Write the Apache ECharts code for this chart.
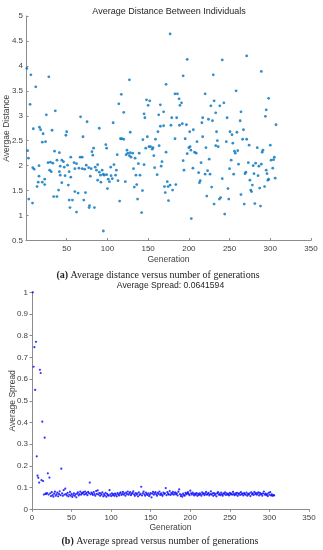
<!DOCTYPE html>
<html><head><meta charset="utf-8">
<script src="https://cdn.jsdelivr.net/npm/echarts@6/dist/echarts.min.js"></script>
<style>html,body{margin:0;padding:0;background:#fff}#c{width:323px;height:550px}</style>
</head><body><div id="c"></div>
<script>
// Top chart: [generation, average distance]
const distPoints = [
[1,3.95],[2,2.30],[3,2.15],[3.4,1.33],[5,3.23],[6,3.82],[8,1.25],[8.3,1.96],[9,2.74],[10,1.93],
[12,3.58],[13.6,1.58],[15,1.67],[16,1.79],[16,2.0],[16.5,2.77],[18,2.72],[20,2.47],[20,1.67],[21,2.64],
[23,1.73],[23,1.62],[24,2.48],[25,3.02],[27,2.06],[28,3.78],[29,1.91],[30,2.07],[31,1.88],[32,2.71],
[33,2.05],[34,1.38],[35,2.29],[36,3.10],[38,2.11],[38,1.38],[40,1.51],[41,2.26],[41,1.88],[42,1.99],
[42,1.81],[44,2.11],[44,1.66],[46,2.08],[47,1.97],[48,1.80],[49,2.61],[50,2.68],[51,2.01],[52,1.61],
[53,1.88],[53,1.31],[54,1.16],[55,1.77],[55,2.17],[57,1.31],[59,2.06],[60,1.48],[60,1.94],[62,2.04],
[62,1.07],[64,1.45],[65,1.95],[66.5,2.17],[67,2.98],[69,2.17],[69,1.94],[70,2.58],[71,1.31],[72,1.93],
[73,1.46],[74,2.01],[75,2.88],[77,1.96],[77.5,1.16],[78,1.20],[79,1.79],[80,1.94],[81,2.28],[82,2.21],
[83,2.35],[84,1.16],[85,1.97],[86.5,1.91],[88,2.02],[88,1.71],[90,2.75],[90,1.87],[91.5,1.81],[92,1.67],
[93.5,1.91],[95,0.69],[95,1.83],[96,1.81],[98,2.42],[99,2.35],[99,1.82],[100,1.54],[101,1.73],[102.5,1.68],
[104,1.97],[104.5,1.80],[106,1.74],[107,2.86],[108,2.02],[110,1.81],[111,1.91],[112,2.22],[113,1.70],[114,3.24],
[115,1.29],[116,2.54],[117,3.43],[117.6,2.54],[120,3.07],[120,2.53],[122,1.68],[123,2.22],[124,2.31],[125,2.25],
[127,3.72],[127,2.20],[128,2.67],[128,2.26],[129,2.17],[131,2.25],[132,1.94],[133,1.57],[134,2.15],[135,1.81],
[136,1.62],[137,1.33],[138,2.04],[139,2.25],[140,1.81],[142,1.06],[143,1.50],[143.5,2.52],[145,3.04],[145,2.02],
[146,2.96],[147,2.35],[148,3.32],[149,2.58],[150,3.21],[151,2.38],[152,3.30],[153,2.38],[155,2.33],[156,2.36],
[157,2.20],[158,1.96],[159,2.53],[161,1.82],[162,2.68],[163,3.02],[163.5,2.40],[165,3.22],[165,2.79],[166,1.99],
[167,2.08],[169,3.08],[169,2.80],[170,1.58],[171,1.46],[172,3.63],[172,2.27],[173.5,1.68],[174.5,1.58],[175,1.30],
[177,4.64],[177,1.61],[178,2.81],[179,2.96],[180,1.51],[183,3.44],[183,2.54],[184,1.62],[185,2.96],[186,3.44],
[188,3.34],[188.5,2.81],[189,3.21],[191,3.26],[192,2.84],[193,3.80],[193,2.10],[194,1.91],[195.5,2.54],[197,2.82],
[198,4.13],[198,2.24],[200,2.36],[201,2.68],[201.5,2.38],[202.5,2.31],[203,0.94],[205,1.95],[205.5,2.72],[207,2.27],
[209,2.25],[210,2.48],[212,1.86],[213,1.66],[214,1.70],[215,2.06],[216,2.86],[217,2.96],[217,2.58],[220,3.44],
[220,1.83],[221,2.36],[222,1.39],[223,1.90],[224,2.93],[225,2.13],[226,1.83],[227,3.20],[228,1.57],[229,2.90],
[230,3.82],[231,3.30],[231,1.23],[233,3.06],[233,2.40],[234,2.68],[235,2.50],[236,2.38],[237.5,1.33],[238,3.20],
[239,1.36],[241,4.12],[241,1.74],[243,3.26],[244,1.03],[246,2.48],[247,2.96],[248,1.54],[249,1.33],[250,1.94],
[250.5,2.68],[252,2.11],[253,2.62],[254,2.45],[255,1.83],[256,2.29],[257,2.25],[258,3.50],[259,2.67],[260,2.30],
[261,2.03],[263,2.90],[264,3.08],[264,1.42],[266,2.53],[267,2.72],[268,1.23],[269,1.84],[270,1.87],[271,4.20],
[271,2.53],[273,2.06],[274,2.41],[275,1.71],[276,1.51],[277,1.48],[278,1.61],[279,2.0],[280,1.84],[281,1.24],
[282,2.05],[284,2.36],[285,1.80],[286,1.99],[287,1.55],[288,1.19],[289,3.89],[289,2.03],[290,2.27],[291,2.31],
[293,1.58],[294,2.99],[295,3.12],[295,1.91],[296,1.84],[297,1.71],[298,3.35],[298,1.73],[300,2.41],[301,2.11],
[303,1.95],[304,2.12],[305,2.17],[306,1.75],[307,2.82]
];
// Bottom chart: average spread, one value per generation (1..306)
const spreadValues = [
1.0,0.657,0.747,0.55,0.772,0.244,0.155,0.145,0.123,0.643,
0.628,0.134,0.404,0.130,0.068,0.330,0.072,0.070,0.075,0.166,
0.068,0.146,
0.074,0.061,0.079,0.066,0.058,0.072,0.081,0.063,0.069,0.077,
0.060,0.071,0.083,0.065,0.187,0.073,0.062,0.088,0.068,0.095,
0.070,0.064,0.076,0.059,0.067,0.080,0.063,0.071,0.057,0.066,
0.074,0.062,0.069,0.055,0.072,0.078,0.064,0.070,0.081,0.067,
0.075,0.073,0.079,0.068,0.082,0.071,0.076,0.065,0.080,0.074,
0.123,0.069,0.077,0.072,0.066,0.079,0.070,0.063,0.084,0.071,
0.087,0.068,0.075,0.062,0.073,0.067,0.078,0.060,0.070,0.064,
0.076,0.058,0.071,0.066,0.063,0.088,0.069,0.061,0.074,0.065,
0.070,0.062,0.072,0.067,0.060,0.075,0.069,0.064,0.073,0.078,
0.066,0.071,0.080,0.068,0.074,0.063,0.077,0.070,0.082,0.067,
0.073,0.079,0.065,0.071,0.076,0.083,0.069,0.062,0.075,0.068,
0.072,0.060,0.078,0.066,0.071,0.104,0.064,0.074,0.081,0.069,
0.063,0.077,0.070,0.066,0.073,0.061,0.068,0.075,0.055,0.072,
0.080,0.067,0.074,0.079,0.069,0.063,0.076,0.071,0.082,0.066,
0.073,0.068,0.062,0.077,0.070,0.074,0.098,0.065,0.079,0.072,
0.068,0.084,0.066,0.075,0.071,0.080,0.067,0.073,0.078,0.069,
0.074,0.064,0.081,0.092,0.070,0.061,0.067,0.058,0.072,0.066,
0.063,0.076,0.069,0.073,0.079,0.071,0.065,0.086,0.074,0.068,
0.077,0.070,0.064,0.072,0.067,0.075,0.062,0.071,0.066,0.073,
0.069,0.063,0.078,0.070,0.074,0.065,0.072,0.080,0.067,0.071,
0.076,0.064,0.070,0.083,0.068,0.073,0.062,0.075,0.066,0.071,
0.060,0.074,0.079,0.067,0.072,0.065,0.077,0.069,0.063,0.073,
0.070,0.078,0.066,0.074,0.068,0.071,0.064,0.076,0.069,0.072,
0.067,0.080,0.070,0.065,0.073,0.068,0.076,0.062,0.071,0.074,
0.066,0.079,0.069,0.072,0.064,0.075,0.070,0.067,0.077,0.063,
0.071,0.068,0.074,0.061,0.078,0.069,0.073,0.066,0.080,0.070,
0.075,0.067,0.072,0.078,0.064,0.076,0.069,0.071,0.063,0.074,
0.082,0.068,0.072,0.065,0.070,0.061,0.076,0.067,0.079,0.064,
0.069,0.062,0.066,0.064
];
const topTitle = 'Average Distance Between Individuals';
const bottomTitle = 'Average Spread: 0.0641594';
const topYName = 'Avergae Distance';
const bottomYName = 'Average Spread';
const xName = 'Generation';
const captionA = ['(a)', ' Average distance versus number of generations'];
const captionB = ['(b)', ' Average spread versus number of generations'];

const chart = echarts.init(document.getElementById('c'), null, {renderer: 'canvas'});
const SANS = '"Liberation Sans", Arial, Helvetica, sans-serif';
const SERIF = '"Liberation Serif", "Times New Roman", serif';
const axisGrey = '#8c8c8c';
const textGrey = '#404040';

function xAxisCfg(grid, inside) {
  return {
    gridIndex: grid, type: 'value', min: 0, max: 350, interval: 50,
    axisLine: {show: true, onZero: false, lineStyle: {color: axisGrey, width: 1}},
    axisTick: {show: true, inside: inside, length: 2.5, lineStyle: {color: axisGrey, width: 1}},
    axisLabel: {show: true, showMinLabel: grid === 1, color: textGrey, fontFamily: SANS, fontSize: 8, margin: 4},
    splitLine: {show: false},
    name: xName, nameLocation: 'middle', nameGap: grid === 0 ? 14.5 : 14, nameMoveOverlap: false,
    nameTextStyle: {color: textGrey, fontFamily: SANS, fontSize: 8.5}
  };
}
function yAxisCfg(grid, min, max, interval, name, inside) {
  return {
    gridIndex: grid, type: 'value', min: min, max: max, interval: interval,
    axisLine: {show: true, onZero: false, lineStyle: {color: axisGrey, width: 1}},
    axisTick: {show: true, inside: inside, length: 2.5, lineStyle: {color: axisGrey, width: 1}},
    axisLabel: {show: true, color: textGrey, fontFamily: SANS, fontSize: 8, margin: inside ? 3 : 4},
    splitLine: {show: false},
    name: name, nameLocation: 'middle', nameGap: grid === 0 ? 15 : 14.5, nameMoveOverlap: false,
    nameTextStyle: {color: textGrey, fontFamily: SANS, fontSize: 8.5}
  };
}

const option = {
  animation: false,
  backgroundColor: '#ffffff',
  grid: [
    {left: 26, right: 12, top: 16, bottom: 309.5, containLabel: false, outerBoundsMode: 'none'},
    {left: 32, right: 14, top: 292.3, bottom: 40.7, containLabel: false, outerBoundsMode: 'none'}
  ],
  xAxis: [xAxisCfg(0, true), xAxisCfg(1, false)],
  yAxis: [
    yAxisCfg(0, 0.5, 5, 0.5, topYName, true),
    yAxisCfg(1, 0, 1, 0.1, bottomYName, false)
  ],
  series: [
    {
      type: 'scatter', xAxisIndex: 0, yAxisIndex: 0,
      data: distPoints, symbol: 'circle', symbolSize: 2.8,
      itemStyle: {color: '#0072BD'}, silent: true
    },
    {
      type: 'scatter', xAxisIndex: 1, yAxisIndex: 1,
      data: spreadValues.map((v, i) => [i + 1, v]), symbol: 'circle', symbolSize: 2.2,
      itemStyle: {color: '#0000FF'}, silent: true
    }
  ],
  graphic: [
    {type: 'text', x: 169, y: 11.3, style: {text: topTitle, font: '9px ' + SANS, fill: '#262626', textAlign: 'center', textVerticalAlign: 'middle'}},
    {type: 'text', x: 170.5, y: 286, style: {text: bottomTitle, font: '8.6px ' + SANS, fill: '#262626', textAlign: 'center', textVerticalAlign: 'middle'}},
    {type: 'text', x: 158, y: 275.7, style: {
      text: '{b|' + captionA[0] + '}{n|' + captionA[1] + '}', textAlign: 'center', textVerticalAlign: 'middle',
      rich: {b: {fontFamily: SERIF, fontWeight: 'bold', fontSize: 10, fill: '#222'}, n: {fontFamily: SERIF, fontSize: 10, fill: '#222'}}
    }},
    {type: 'text', x: 160, y: 541.7, style: {
      text: '{b|' + captionB[0] + '}{n|' + captionB[1] + '}', textAlign: 'center', textVerticalAlign: 'middle',
      rich: {b: {fontFamily: SERIF, fontWeight: 'bold', fontSize: 10, fill: '#222'}, n: {fontFamily: SERIF, fontSize: 10, fill: '#222'}}
    }}
  ]
};
chart.setOption(option);
</script>
</body></html>
